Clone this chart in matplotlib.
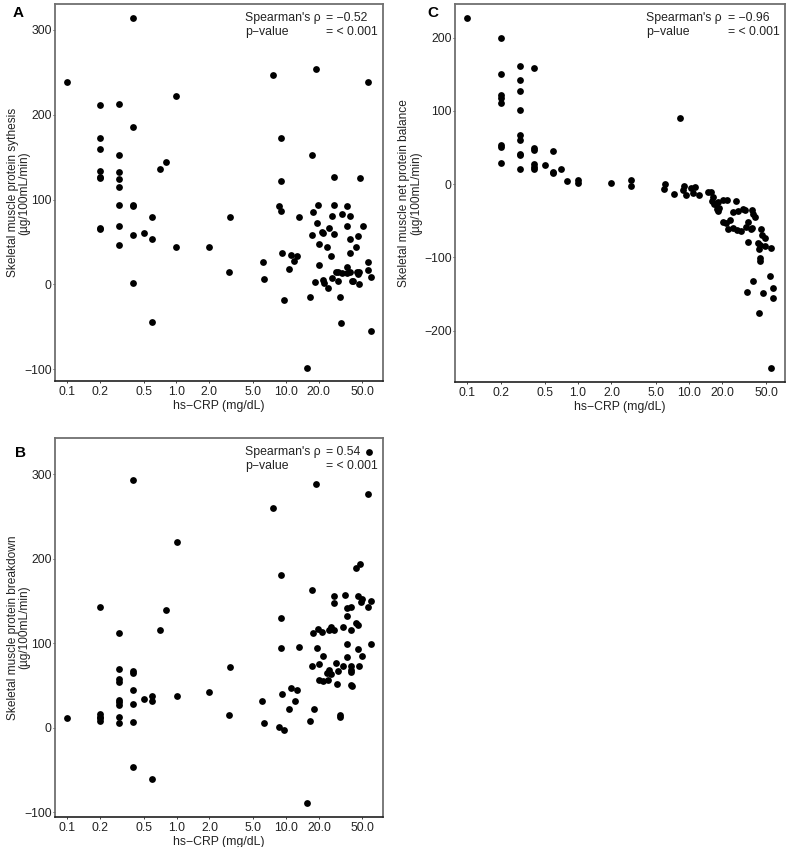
import matplotlib
matplotlib.use("Agg")
import matplotlib.pyplot as plt
import numpy as np

plt.rcParams['font.family'] = ['Liberation Sans', 'DejaVu Sans']

# ---------------- Data ----------------
# Panel A: synthesis
a_x = [0.1,
       0.2, 0.2, 0.2, 0.2, 0.2, 0.2, 0.2, 0.2,
       0.3, 0.3, 0.3, 0.3, 0.3, 0.3, 0.3, 0.3,
       0.4, 0.4, 0.4, 0.4, 0.4, 0.4,
       0.5, 0.6, 0.6, 0.6, 0.7, 0.8, 1.0, 1.0, 2.0, 3.0, 3.1,
       7.6, 18.7, 57,
       9.0, 17.3, 9.0, 27.4, 48,
       8.7, 9.0, 13.1,
       19.6, 17.7, 27.4, 26.3, 33, 36, 39, 19.2, 21.3, 21.8, 24.7, 36, 50.5,
       17.3, 27.4, 39, 45.5, 20, 23.7, 43.6, 9.2, 11.1, 12.6, 11.8, 25.8, 39,
       6.2, 20, 56,
       6.3, 9.6, 10.6, 15.6, 16.6, 18.4, 21.8, 22.2, 24.2, 26.3, 28.6, 29.8,
       29.8, 31, 31.8, 33, 36, 36, 38.4, 40, 41, 44.5, 45.5, 47, 47, 56, 60, 60]
a_y = [238,
       212, 173, 159, 134, 127, 125, 67, 65,
       213, 153, 133, 124, 115, 93, 69, 46,
       314, 186, 94, 92, 58, 2,
       60, 79, 54, -44, 136, 144, 222, 44, 44, 14, 79,
       247, 254, 238,
       173, 153, 122, 126, 125,
       92, 87, 80,
       94, 85, 93, 81, 83, 92, 81, 72, 62, 61, 67, 69, 69,
       58, 59, 54, 57, 48, 44, 44, 37, 35, 33, 28, 33, 37,
       26, 23, 26,
       6, -18, 18, -98, -15, 3, 5, 2, -4, 7, 15, 14,
       4, -15, -45, 13, 13, 20, 14, 4, 4, 15, 12, 14, 1, 17, 9, -55]
a_rho = "= \u22120.52"

# Panel B: breakdown
b_x = [0.1,
       0.2, 0.2, 0.2, 0.2, 0.2,
       0.3, 0.3, 0.3, 0.3, 0.3, 0.3, 0.3, 0.3, 0.3,
       0.4, 0.4, 0.4, 0.4, 0.4, 0.4, 0.4,
       0.5, 0.6, 0.6, 0.6, 0.7, 0.8, 1.0, 1.0, 2.0, 3.0, 3.1,
       57, 18.7, 56, 7.6, 48, 44, 9.0, 17.3, 9.0,
       27.4, 27.4, 34.6, 45.5, 49.4, 48.3, 59.7, 39, 36, 56, 36, 43.6, 45.5,
       33, 39, 25.8, 24.7, 27.4, 19.6, 21.3, 17.7, 9.0, 13.1, 19.2, 36, 59.7, 45.5,
       21.8, 36, 49.4, 28.6, 33, 39, 39, 39, 46.5, 17.3, 20, 25, 25.8, 29.8,
       23.7, 20, 21.8, 24.2, 29, 39, 40,
       6.1, 6.3, 8.7, 9.6, 9.2, 11.1, 12.6, 12, 10.7, 15.5, 16.6, 18.1, 31, 31]
b_y = [12,
       143, 16, 13, 11, 8,
       112, 70, 58, 54, 33, 30, 27, 13, 5,
       293, 67, 65, 45, 28, 7, -46,
       34, 38, 32, -61, 116, 139, 220, 37, 42, 15, 72,
       326, 288, 276, 260, 194, 189, 180, 163, 130,
       156, 148, 157, 156, 152, 149, 150, 143, 142, 143, 132, 124, 122,
       119, 116, 119, 116, 115, 117, 113, 112, 94, 96, 94, 99, 99, 93,
       85, 84, 85, 77, 73, 73, 68, 66, 73, 73, 75, 68, 64, 67,
       65, 56, 55, 56, 52, 51, 49,
       32, 5, 1, -3, 40, 47, 45, 32, 22, -89, 8, 22, 15, 13]
b_rho = "= 0.54"

# Panel C: net balance
c_x = [0.1,
       0.2, 0.2, 0.2, 0.2, 0.2, 0.2, 0.2, 0.2,
       0.3, 0.3, 0.3, 0.3, 0.3, 0.3, 0.3, 0.3, 0.3,
       0.4, 0.4, 0.4, 0.4, 0.4, 0.4,
       0.5, 0.6, 0.6, 0.6, 0.7, 0.8, 1.0, 1.0, 2.0, 3.0, 3.0, 8.3,
       6.1, 5.9, 7.3, 9.0, 8.8, 9.4, 10.4, 11.3, 10.9, 12.3, 14.9, 15.9,
       16.5, 16.2, 16.9, 17.6, 18.4, 18.8, 18.0, 18.4, 20.4, 22.2, 26.7,
       25, 27.9, 30.4, 31.7, 37.4, 38.1, 34.4, 39, 20.4, 21.7, 23.6,
       22.6, 25, 27.3, 29.6, 32.9, 35.9, 37.4, 34.4, 44.2, 46, 48,
       41.7, 43.3, 48, 42.5, 54.5, 43.3, 43.3, 53.4, 38, 57, 33.6, 47, 57,
       42.5, 54.5]
c_y = [227,
       200, 150, 122, 118, 111, 54, 51, 29,
       161, 143, 127, 101, 67, 60, 41, 40, 21,
       159, 50, 47, 28, 24, 21,
       26, 46, 17, 15, 21, 5, 6, 2, 2, 6, -2, 90,
       0, -6, -13, -3, -8, -15, -5, -4, -12, -15, -10, -10,
       -17, -23, -27, -27, -24, -32, -34, -37, -21, -21, -23,
       -38, -36, -34, -35, -35, -40, -51, -45, -51, -53, -49,
       -61, -60, -62, -64, -58, -61, -60, -79, -61, -69, -73,
       -80, -83, -84, -88, -87, -101, -105, -126, -132, -142, -147, -149, -155,
       -176, -251]
c_rho = "= \u22120.96"

p_text = "= < 0.001"
x_ticks = [0.1, 0.2, 0.5, 1.0, 2.0, 5.0, 10.0, 20.0, 50.0]
x_ticklabels = ["0.1", "0.2", "0.5", "1.0", "2.0", "5.0", "10.0", "20.0", "50.0"]
y_ticks_ab = [-100, 0, 100, 200, 300]
y_ticks_c = [-200, -100, 0, 100, 200]

# ---------------- Figure ----------------
W, H = 791, 847
fig = plt.figure(figsize=(W / 100, H / 100), dpi=100)

def px_axes(l, t, r, b):
    return fig.add_axes([l / W, 1 - b / H, (r - l) / W, (b - t) / H])

FS = 8.8

def panel(ax, xs, ys, yticks, ylabel, rho, letter, letter_xy, ylab_x=-0.075):
    ax.scatter(xs, ys, s=24, c='black', linewidths=0, zorder=3)
    ax.set_xscale('log')
    lx = np.log10(np.array(xs, dtype=float))
    r = lx.max() - lx.min()
    ax.set_xlim(10 ** (lx.min() - 0.04 * r), 10 ** (lx.max() + 0.04 * r))
    yv = np.array(ys, dtype=float)
    ry = yv.max() - yv.min()
    ax.set_ylim(yv.min() - 0.04 * ry, yv.max() + 0.04 * ry)
    ax.set_xticks(x_ticks)
    ax.set_xticklabels(x_ticklabels)
    ax.minorticks_off()
    ax.set_yticks(yticks)
    ax.set_yticklabels([str(v).replace('-', '\u2212') for v in yticks])
    ax.tick_params(axis='x', length=1.5, width=0.6, pad=2.0, labelsize=FS, colors='#222222')
    ax.tick_params(axis='y', length=1.5, width=0.6, pad=0.8, labelsize=FS, colors='#222222')
    for s in ['top', 'right', 'left']:
        ax.spines[s].set_color('#707070')
        ax.spines[s].set_linewidth(1.3)
    ax.spines['bottom'].set_color('#202020')
    ax.spines['bottom'].set_linewidth(1.2)
    ax.set_ylabel(ylabel, fontsize=FS - 0.2, linespacing=0.95, color='#222222')
    ax.yaxis.set_label_coords(ylab_x, 0.5)
    ax.set_xlabel("hs\u2212CRP (mg/dL)", fontsize=FS, color='#222222')
    ax.xaxis.set_label_coords(0.5, -0.050)
    ax.text(0.579, 0.963, "Spearman's \u03c1", transform=ax.transAxes,
            fontsize=FS, ha='left', va='center', color='#222222')
    ax.text(0.826, 0.963, rho, transform=ax.transAxes,
            fontsize=FS, ha='left', va='center', color='#222222')
    ax.text(0.579, 0.926, "p\u2212value", transform=ax.transAxes,
            fontsize=FS, ha='left', va='center', color='#222222')
    ax.text(0.826, 0.926, p_text, transform=ax.transAxes,
            fontsize=FS, ha='left', va='center', color='#222222')
    fig.text(letter_xy[0] / W, 1 - letter_xy[1] / H, letter, fontsize=11,
             fontweight='bold', ha='left', va='top')

axA = px_axes(55, 4, 383, 381.5)
panel(axA, a_x, a_y, y_ticks_ab,
      "Skeletal muscle protein sythesis\n(\u00b5g/100mL/min)", a_rho, "A", (13, 6))

axB = px_axes(55, 438, 383, 817)
panel(axB, b_x, b_y, y_ticks_ab,
      "Skeletal muscle protein breakdown\n(\u00b5g/100mL/min)", b_rho, "B", (15, 446))

axC = px_axes(455, 4, 785, 382)
panel(axC, c_x, c_y, y_ticks_c,
      "Skeletal muscle net protein balance\n(\u00b5g/100mL/min)", c_rho, "C", (427, 6),
      ylab_x=-0.100)

fig.savefig("out.png", dpi=100)
